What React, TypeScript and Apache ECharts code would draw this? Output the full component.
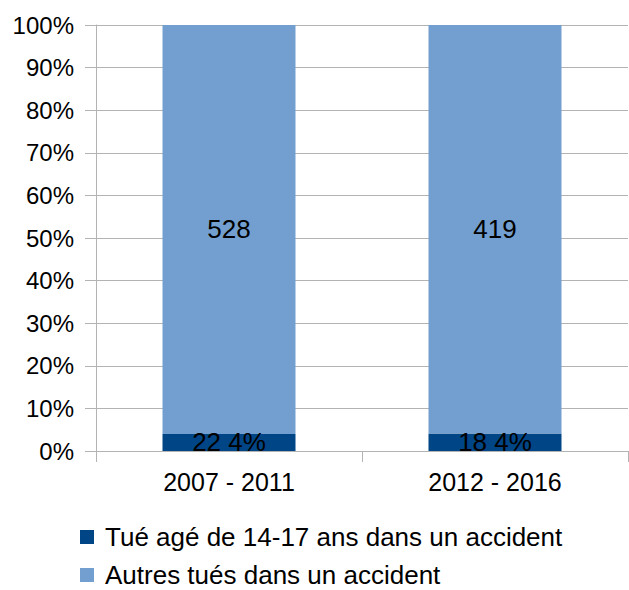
import React, { useEffect, useRef } from "react";
import * as echarts from "echarts";

const categories = ["2007 - 2011", "2012 - 2016"];
const youngKilled = [22, 18];
const otherKilled = [528, 419];
const seriesNames = ["Tué agé de 14-17 ans dans un accident", "Autres tués dans un accident"];
const yTicks = [0, 10, 20, 30, 40, 50, 60, 70, 80, 90, 100];

const FONT = "'Liberation Sans', Arial, sans-serif";

export default function App() {
  const ref = useRef<HTMLDivElement>(null);
  useEffect(() => {
    if (!ref.current) return;
    const chart = echarts.init(ref.current, null, { renderer: "svg" });
    const totals = categories.map((_, i) => youngKilled[i] + otherKilled[i]);
    const youngPct = youngKilled.map((v, i) => (v / totals[i]) * 100);
    const otherPct = otherKilled.map((v, i) => (v / totals[i]) * 100);
    chart.setOption({
      animation: false,
      textStyle: { fontFamily: FONT },
      grid: { left: 96, right: 1, top: 25, bottom: 139, containLabel: false },
      legend: {
        orient: "vertical",
        left: 80,
        top: 524,
        padding: 0,
        itemWidth: 14,
        itemHeight: 14,
        itemGap: 12,
        icon: "rect",
        textStyle: { fontSize: 26, color: "#000", fontFamily: FONT, padding: [0, 0, 0, 6], lineHeight: 26 },
        data: seriesNames,
      },
      xAxis: {
        type: "category",
        data: categories,
        axisLine: { lineStyle: { color: "#b3b3b3", width: 1 } },
        axisTick: { show: true, length: 11, alignWithLabel: false, lineStyle: { color: "#b3b3b3" } },
        axisLabel: { fontSize: 25, color: "#000", margin: 18, fontFamily: FONT },
      },
      yAxis: {
        type: "value",
        min: 0,
        max: 100,
        interval: 10,
        axisLine: { show: true, lineStyle: { color: "#b3b3b3", width: 1 } },
        axisTick: { show: true, length: 11, lineStyle: { color: "#b3b3b3" } },
        splitLine: { show: true, lineStyle: { color: "#b3b3b3", width: 1 } },
        axisLabel: {
          fontSize: 24,
          color: "#000",
          margin: 22,
          fontFamily: FONT,
          formatter: (v: number) => (yTicks.includes(v) ? `${v}%` : ""),
        },
      },
      series: [
        {
          name: seriesNames[0],
          type: "bar",
          stack: "total",
          barWidth: "50%",
          data: youngPct,
          itemStyle: { color: "#004586" },
          label: {
            show: true,
            position: "inside",
            fontSize: 26,
            color: "#000",
            fontFamily: FONT,
            formatter: (p: any) => `${youngKilled[p.dataIndex]} ${Math.round(youngPct[p.dataIndex])}%`,
          },
        },
        {
          name: seriesNames[1],
          type: "bar",
          stack: "total",
          barWidth: "50%",
          data: otherPct,
          itemStyle: { color: "#729fcf" },
          label: {
            show: true,
            position: "inside",
            fontSize: 26,
            color: "#000",
            fontFamily: FONT,
            formatter: (p: any) => `${otherKilled[p.dataIndex]}`,
          },
        },
      ],
    });
    return () => chart.dispose();
  }, []);
  return <div ref={ref} style={{ width: 629, height: 590, position: "absolute", left: 0, top: 0 }} />;
}
